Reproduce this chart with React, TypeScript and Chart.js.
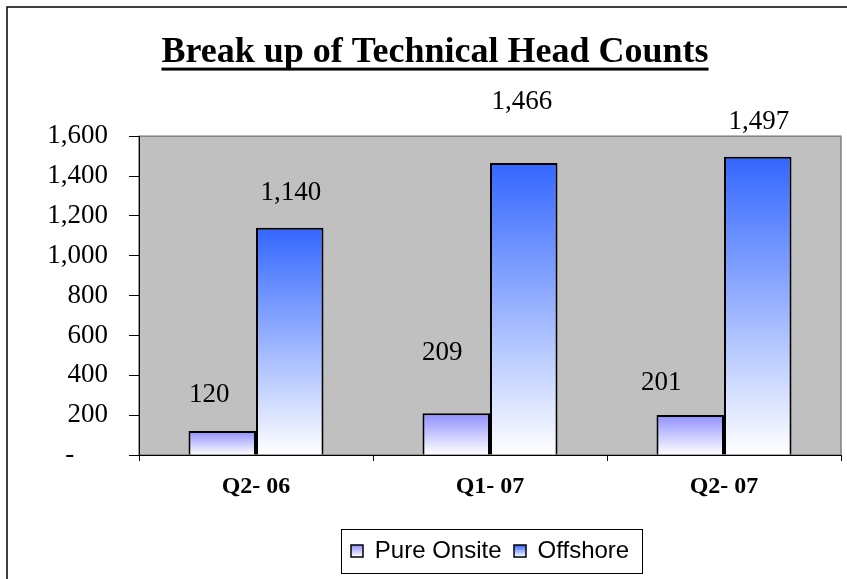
import React, { useEffect, useRef } from "react";
import { Chart, registerables } from "chart.js";

Chart.register(...registerables);

const categories = ["Q2- 06", "Q1- 07", "Q2- 07"];
const pureOnsite = [120, 209, 201];
const offshore = [1140, 1466, 1497];
const yTickValues = [0, 200, 400, 600, 800, 1000, 1200, 1400, 1600];
const seriesNames = ["Pure Onsite", "Offshore"];
const seriesTopColors = ["#8f8fff", "#3366ff"];

// label offsets (px) relative to each bar's top-centre, as placed in the original
const labelOffsets = [
  [[-13, -36], [-14, -60], [-29, -32]],
  [[1, -35], [-2, -61], [1, -35]],
];

const fmt = (v: number) => v.toLocaleString("en-US");

function gradientFill(topColor: string, flat: string) {
  return (c: any) => {
    if (c.type !== "data" || typeof c.raw !== "number") return flat;
    const chart = c.chart;
    const ys = chart.scales && chart.scales.y;
    if (!chart.chartArea || !ys) return flat;
    const top = ys.getPixelForValue(c.raw);
    const bottom = ys.getPixelForValue(0);
    if (!isFinite(top) || !isFinite(bottom)) return flat;
    const g = chart.ctx.createLinearGradient(0, top, 0, bottom);
    g.addColorStop(0, topColor);
    g.addColorStop(1, "#ffffff");
    return g;
  };
}

const framePlugin = {
  id: "frame",
  beforeDraw(chart: any) {
    const { ctx, chartArea: a } = chart;
    ctx.save();
    ctx.fillStyle = "#ffffff";
    ctx.fillRect(0, 0, chart.width, chart.height);
    ctx.strokeStyle = "#000";
    ctx.lineWidth = 1.5;
    ctx.beginPath();
    ctx.moveTo(7, chart.height + 2);
    ctx.lineTo(7, 7);
    ctx.lineTo(chart.width + 2, 7);
    ctx.stroke();
    ctx.fillStyle = "#c0c0c0";
    ctx.fillRect(a.left, a.top, a.right - a.left, a.bottom - a.top);
    ctx.strokeStyle = "#808080";
    ctx.lineWidth = 1.5;
    ctx.strokeRect(a.left, a.top, a.right - a.left, a.bottom - a.top);
    ctx.restore();
  },
};

const labelPlugin = {
  id: "barLabels",
  afterDatasetsDraw(chart: any) {
    const { ctx } = chart;
    ctx.save();
    ctx.font = "27px 'Liberation Serif'";
    ctx.fillStyle = "#000";
    ctx.textAlign = "center";
    ctx.textBaseline = "middle";
    chart.data.datasets.forEach((ds: any, di: number) => {
      const meta = chart.getDatasetMeta(di);
      meta.data.forEach((bar: any, i: number) => {
        const off = labelOffsets[di][i];
        ctx.fillText(fmt(ds.data[i]), bar.x + off[0], bar.y + off[1]);
      });
    });
    ctx.restore();
  },
  afterDraw(chart: any) {
    const { ctx } = chart;
    // underline title
    const tb = chart.titleBlock;
    if (tb) {
      ctx.save();
      ctx.font = "bold 36px 'Liberation Serif'";
      const w = ctx.measureText(chart.options.plugins.title.text).width;
      const cx = (tb.left + tb.right) / 2;
      const cy = tb.top + tb.options.padding.top + (36 * 1.2) / 2;
      ctx.fillStyle = "#000";
      ctx.fillRect(cx - w / 2, cy + 15, w, 3);
      ctx.restore();
    }
    // legend swatches and border
    const lg = chart.legend;
    if (lg && lg.legendHitBoxes && lg.legendHitBoxes.length) {
      const hb = lg.legendHitBoxes;
      let l = Infinity, r = -Infinity, cyy = 0;
      ctx.save();
      hb.forEach((h: any, i: number) => {
        l = Math.min(l, h.left);
        r = Math.max(r, h.left + h.width);
        cyy = h.top + 12;
        const bx = Math.round(h.left);
        const by = Math.round(cyy - 6);
        const g = ctx.createLinearGradient(0, by, 0, by + 12);
        g.addColorStop(0, seriesTopColors[i]);
        g.addColorStop(1, "#ffffff");
        ctx.fillStyle = g;
        ctx.fillRect(bx, by, 12, 12);
        ctx.strokeStyle = "#000";
        ctx.lineWidth = 1.5;
        ctx.strokeRect(bx, by, 12, 12);
      });
      ctx.strokeStyle = "#000";
      ctx.lineWidth = 1;
      ctx.strokeRect(Math.round(l - 10) + 0.5, Math.round(cyy - 22) + 0.5, Math.round(r - l + 23), 44);
      ctx.restore();
    }
  },
};

export default function App() {
  const ref = useRef<HTMLCanvasElement | null>(null);
  useEffect(() => {
    if (!ref.current) return;
    const chart = new Chart(ref.current, {
      type: "bar",
      data: {
        labels: categories,
        datasets: [
          {
            label: seriesNames[0],
            data: pureOnsite,
            backgroundColor: gradientFill(seriesTopColors[0], "#c4c4ff"),
            borderColor: "#000",
            borderWidth: 2,
            categoryPercentage: 0.577,
            barPercentage: 1,
          },
          {
            label: seriesNames[1],
            data: offshore,
            backgroundColor: gradientFill(seriesTopColors[1], "#7f99ff"),
            borderColor: "#000",
            borderWidth: 2,
            categoryPercentage: 0.577,
            barPercentage: 1,
          },
        ],
      },
      options: {
        animation: false,
        responsive: false,
        maintainAspectRatio: false,
        layout: { padding: { left: 29, right: 6, top: 0, bottom: 6 } },
        plugins: {
          title: {
            display: true,
            text: "Break up of Technical Head Counts",
            color: "#000",
            font: { family: "'Liberation Serif'", size: 36, weight: "bold", lineHeight: 1.2 },
            padding: { top: 31, bottom: 62 },
          },
          legend: {
            display: true,
            position: "bottom",
            fullSize: false,
            labels: {
              color: "#000",
              font: { family: "'Liberation Sans'", size: 24 },
              boxWidth: 12,
              boxHeight: 12,
              padding: 12,
              generateLabels: (chart: any) =>
                Chart.defaults.plugins.legend.labels.generateLabels(chart).map((it: any) => ({
                  ...it,
                  fillStyle: "rgba(0,0,0,0)",
                  strokeStyle: "rgba(0,0,0,0)",
                  lineWidth: 0,
                })),
            },
          },
          tooltip: { enabled: false },
        },
        scales: {
          x: {
            grid: {
              offset: true,
              drawOnChartArea: false,
              drawTicks: true,
              tickLength: 6,
              tickColor: "#000",
              color: "#000",
            },
            border: { color: "#000", width: 1 },
            ticks: {
              color: "#000",
              padding: 11,
              font: { family: "'Liberation Serif'", size: 24, weight: "bold" },
            },
            afterFit: (s: any) => {
              s.height = 72;
            },
          },
          y: {
            min: 0,
            max: 1600,
            afterBuildTicks: (s: any) => {
              s.ticks = yTickValues.map((v) => ({ value: v }));
            },
            grid: {
              drawOnChartArea: false,
              drawTicks: true,
              tickLength: 10,
              tickColor: "#000",
              color: "#000",
            },
            border: { color: "#000", width: 1 },
            ticks: {
              color: "#000",
              padding: 21,
              font: { family: "'Liberation Serif'", size: 27 },
              callback: (v: any) => (Number(v) === 0 ? "-     " : fmt(Number(v))),
            },
            afterFit: (s: any) => {
              s.width = 110;
            },
          },
        },
      },
      plugins: [framePlugin, labelPlugin],
    });
    return () => chart.destroy();
  }, []);
  return (
    <div style={{ position: "fixed", left: 0, top: 0, width: 847, height: 579 }}>
      <canvas ref={ref} width={847} height={579} style={{ display: "block" }} />
    </div>
  );
}
